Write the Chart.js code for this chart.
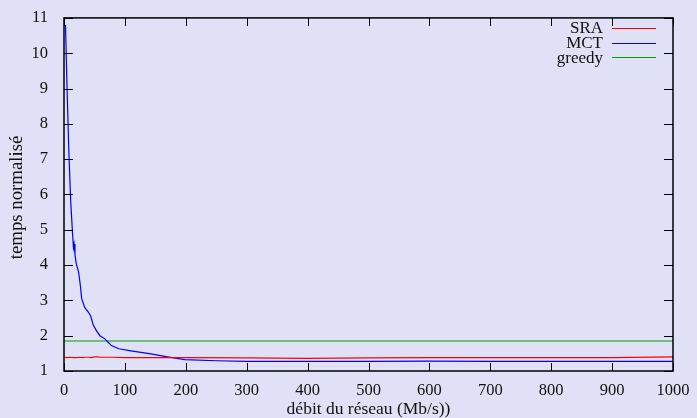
<!DOCTYPE html>
<html>
<head>
<meta charset="utf-8">
<script src="https://cdn.jsdelivr.net/npm/chart.js@4/dist/chart.umd.min.js"></script>
<style>
  html, body { margin: 0; padding: 0; background: #e0e0f6; }
  #wrap { width: 697px; height: 418px; }
</style>
</head>
<body>
<div id="wrap"><canvas id="myChart" width="697" height="418"></canvas></div>
<script>
// data
const sraX = [0, 5, 10, 15, 20, 25, 30, 35, 40, 45, 50, 55, 60, 70, 80, 100, 150, 200, 300, 400, 500, 600, 700, 800, 900, 1000];
const sraY = [1.39, 1.38, 1.39, 1.38, 1.38, 1.39, 1.38, 1.39, 1.39, 1.38, 1.40, 1.40, 1.39, 1.39, 1.39, 1.38, 1.38, 1.38, 1.37, 1.36, 1.37, 1.38, 1.38, 1.38, 1.38, 1.40];

const mctX = [2.5, 5, 8, 11, 14, 15.5, 16.5, 18, 20, 24, 27, 29, 34, 40, 44, 48, 53, 59, 67, 72, 78, 90, 110, 140, 170, 198, 250, 300, 400, 500, 600, 700, 800, 900, 1000];
const mctY = [10.8, 9.0, 7.2, 5.8, 4.9, 4.5, 4.6, 4.3, 4.05, 3.8, 3.4, 3.05, 2.8, 2.67, 2.55, 2.3, 2.15, 2.0, 1.91, 1.82, 1.72, 1.63, 1.57, 1.49, 1.40, 1.32, 1.29, 1.27, 1.27, 1.27, 1.28, 1.27, 1.27, 1.27, 1.27];

const greedyX = [0, 1000];
const greedyY = [1.85, 1.85];

const xTicks = [0, 100, 200, 300, 400, 500, 600, 700, 800, 900, 1000];
const yTicks = [1, 2, 3, 4, 5, 6, 7, 8, 9, 10, 11];

const yTitle = 'temps normalisé';

function pts(xs, ys) {
  return xs.map((x, i) => ({ x: x, y: ys[i] }));
}

const fontSerif = "'Liberation Serif', 'DejaVu Serif', serif";
const fontSize = 16.5;

// gnuplot style inner ticks + frame
const frameTicks = {
  id: 'frameTicks',
  afterDatasetsDraw(chart) {
    const ctx = chart.ctx;
    const a = chart.chartArea;
    const xs = chart.scales.x;
    const ys = chart.scales.y;
    ctx.save();
    ctx.strokeStyle = '#000';
    ctx.lineWidth = 1;
    ctx.beginPath();
    xTicks.forEach(v => {
      const px = Math.round(xs.getPixelForValue(v)) + 0.5;
      ctx.moveTo(px, a.bottom); ctx.lineTo(px, a.bottom - 8);
      ctx.moveTo(px, a.top); ctx.lineTo(px, a.top + 8);
    });
    yTicks.forEach(v => {
      const py = Math.round(ys.getPixelForValue(v)) + 0.5;
      ctx.moveTo(a.left, py); ctx.lineTo(a.left + 9, py);
      ctx.moveTo(a.right, py); ctx.lineTo(a.right - 9, py);
    });
    ctx.stroke();
    ctx.lineWidth = 1.5;
    ctx.strokeRect(a.left, a.top, a.right - a.left, a.bottom - a.top);
    ctx.restore();
  }
};

// legend: label right aligned, sample line after it; plus the y title
const keyBox = {
  id: 'keyBox',
  afterDraw(chart) {
    const ctx = chart.ctx;
    const a = chart.chartArea;
    ctx.save();
    ctx.font = '17px ' + fontSerif;
    ctx.textAlign = 'right';
    ctx.textBaseline = 'middle';
    chart.data.datasets.forEach((ds, i) => {
      const y = 28 + i * 14.7;
      ctx.fillStyle = '#111';
      ctx.fillText(ds.label, 603, y + 1);
      ctx.strokeStyle = ds.borderColor;
      ctx.lineWidth = 1.2;
      ctx.beginPath();
      ctx.moveTo(612, Math.round(y) + 0.5);
      ctx.lineTo(656, Math.round(y) + 0.5);
      ctx.stroke();
    });
    ctx.restore();

    ctx.save();
    ctx.font = '18.8px ' + fontSerif;
    ctx.fillStyle = '#111';
    ctx.textAlign = 'center';
    ctx.textBaseline = 'middle';
    ctx.translate(17, (a.top + a.bottom) / 2 + 3);
    ctx.rotate(-Math.PI / 2);
    ctx.fillText(yTitle, 0, 0);
    ctx.restore();
  }
};

const bg = {
  id: 'bg',
  beforeDraw(chart) {
    const ctx = chart.ctx;
    ctx.save();
    ctx.fillStyle = '#e0e0f6';
    ctx.fillRect(0, 0, chart.width, chart.height);
    ctx.restore();
  }
};

const data = {
  datasets: [
    { label: 'SRA', data: pts(sraX, sraY), borderColor: '#ff0000' },
    { label: 'MCT', data: pts(mctX, mctY), borderColor: '#0000ff' },
    { label: 'greedy', data: pts(greedyX, greedyY), borderColor: '#00a000' }
  ]
};

const config = {
  type: 'line',
  data,
  options: {
    responsive: false,
    animation: false,
    layout: { padding: { top: 12, right: 24, left: 0, bottom: 0 } },
    elements: {
      point: { radius: 0 },
      line: { borderWidth: 1.2, tension: 0 }
    },
    plugins: { legend: { display: false }, tooltip: { enabled: false } },
    scales: {
      x: {
        type: 'linear',
        min: 0, max: 1000,
        afterFit(s) { s.height = 47; },
        afterBuildTicks(s) { s.ticks = xTicks.map(v => ({ value: v })); },
        grid: { display: false },
        border: { display: false },
        ticks: { color: '#111', font: { family: fontSerif, size: fontSize }, padding: 2, maxRotation: 0, callback: v => String(v) },
        title: { display: true, text: 'débit du réseau (Mb/s))', color: '#111', font: { family: fontSerif, size: 17.5, lineHeight: 1 }, padding: { top: 0, bottom: 0 } }
      },
      y: {
        min: 1, max: 11,
        afterFit(s) { s.width = 64; },
        afterBuildTicks(s) { s.ticks = yTicks.map(v => ({ value: v })); },
        grid: { display: false },
        border: { display: false },
        ticks: { color: '#111', font: { family: fontSerif, size: fontSize }, padding: 8, callback: v => String(v) },
        title: { display: false }
      }
    }
  },
  plugins: [bg, frameTicks, keyBox]
};

const myChart = new Chart(document.getElementById('myChart'), config);
</script>
</body>
</html>
